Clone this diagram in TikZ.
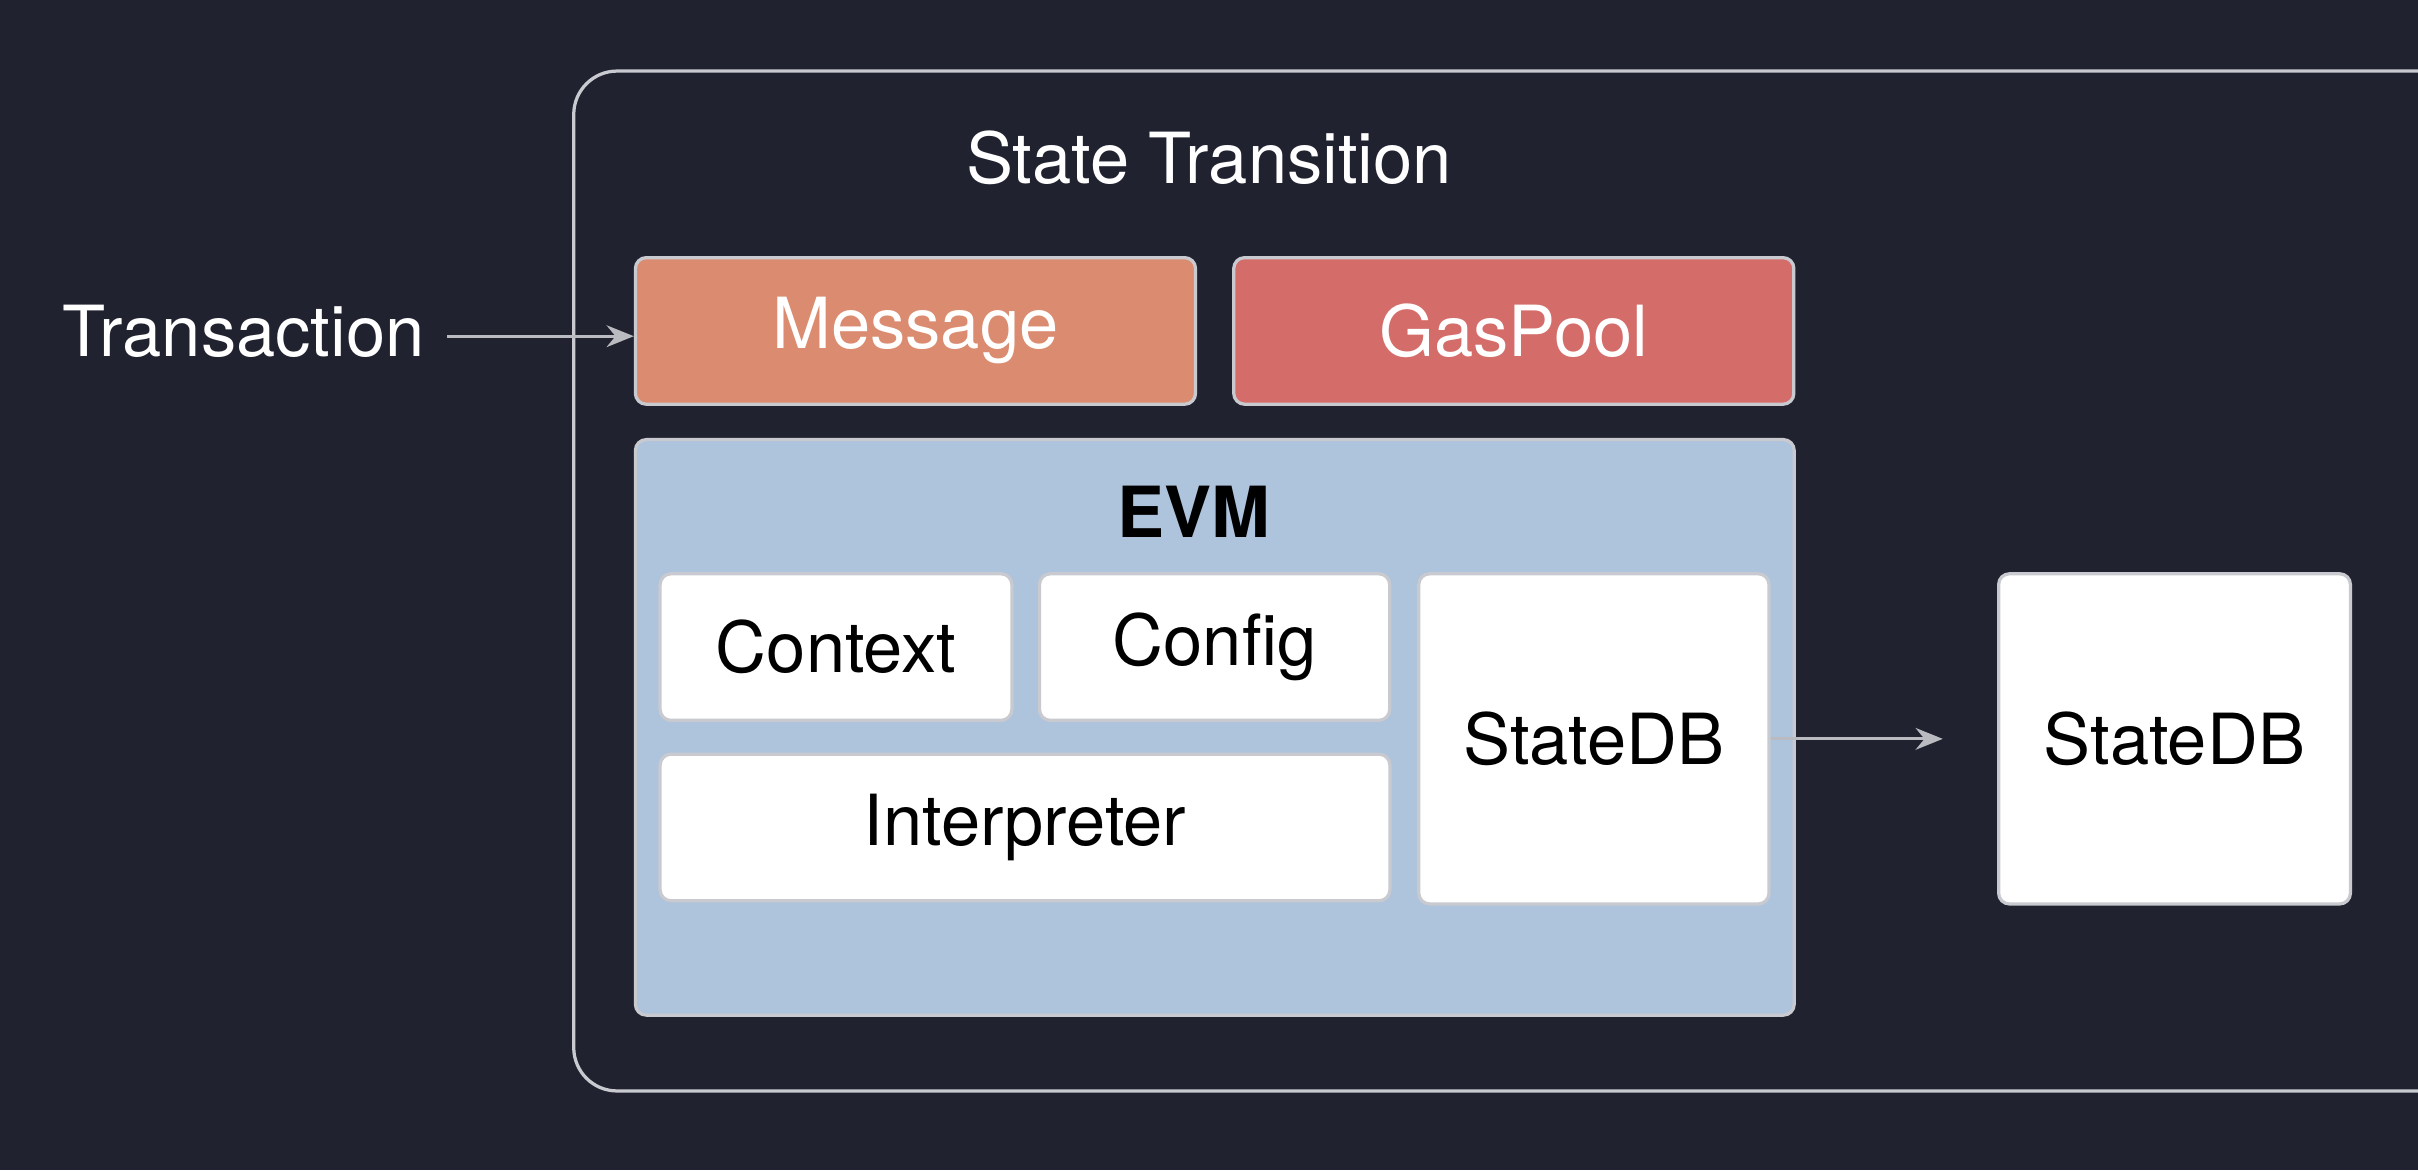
\documentclass[tikz,border=0pt]{standalone}
\usepackage{fontspec}
\setmainfont{TeX Gyre Heros}
\usepackage{tikz}
\usetikzlibrary{positioning,arrows.meta}
\definecolor{bgdark}{HTML}{202230}
\definecolor{msgcol}{HTML}{DB8B6F}
\definecolor{gascol}{HTML}{D46D6A}
\definecolor{evmcol}{HTML}{AEC3DC}
\definecolor{edgecol}{HTML}{C8CAD0}
\tikzset{
  box/.style={draw=edgecol, line width=0.6pt, rounded corners=2pt, inner sep=0pt, anchor=north west},
  whitebox/.style={box, fill=white, text=black, font=\fontsize{13pt}{15pt}\selectfont},
  link/.style={draw=edgecol!80!gray, line width=0.6pt, -{Stealth[length=5pt,width=4pt]}}
}
\begin{document}
\begin{tikzpicture}[x=0.01cm,y=-0.01cm]
\fill[bgdark] (0,0) rectangle (1568,759);
\useasboundingbox (0,0) rectangle (1568,759);
% outer frame
\node[box, rounded corners=8pt, minimum width=826\pgflinewidth, text width=8.26cm, minimum height=6.61cm] (st) at (371,45) {};
\node[text=white, font=\fontsize{13pt}{15pt}\selectfont] (sttitle) at (784,102) {State Transition};
% top row
\node[box, fill=msgcol, minimum width=3.63cm, minimum height=0.95cm, text=white, font=\fontsize{13pt}{15pt}\selectfont] (msg) at (411,166) {};
\node[text=white, font=\fontsize{13pt}{15pt}\selectfont] at (msg.center) {Message};
\node[box, fill=gascol, minimum width=3.63cm, minimum height=0.95cm] (gas) at (799,166) {};
\node[text=white, font=\fontsize{13pt}{15pt}\selectfont] at (gas.center) {GasPool};
% evm
\node[box, fill=evmcol, minimum width=7.51cm, minimum height=3.73cm] (evm) at (411,284) {};
\node[font=\bfseries\fontsize{13pt}{15pt}\selectfont] (evmtitle) at (774,332) {EVM};
\node[whitebox, minimum width=2.28cm, minimum height=0.95cm] (ctx) at (427,371) {};
\node[font=\fontsize{13pt}{15pt}\selectfont] at (ctx.center) {Context};
\node[whitebox, minimum width=2.27cm, minimum height=0.95cm] (cfg) at (673,371) {};
\node[font=\fontsize{13pt}{15pt}\selectfont] at (cfg.center) {Config};
\node[whitebox, minimum width=4.73cm, minimum height=0.95cm] (interp) at (427,488) {};
\node[font=\fontsize{13pt}{15pt}\selectfont] at (interp.center) {Interpreter};
\node[whitebox, minimum width=2.27cm, minimum height=2.14cm] (sdbin) at (919,371) {};
\node[font=\fontsize{13pt}{15pt}\selectfont] at (sdbin.center) {StateDB};
% outside
\node[whitebox, minimum width=2.28cm, minimum height=2.14cm] (sdbout) at (1295,371) {};
\node[font=\fontsize{13pt}{15pt}\selectfont] at (sdbout.center) {StateDB};
\node[text=white, font=\fontsize{13pt}{15pt}\selectfont] (tx) at (158,215) {Transaction};
\coordinate (txend) at (290,218);
\draw[link] (txend) -- (msg.west |- txend);
\draw[link] (sdbin.east) -- ([xshift=-10]sdbout.west);
\end{tikzpicture}
\end{document}
